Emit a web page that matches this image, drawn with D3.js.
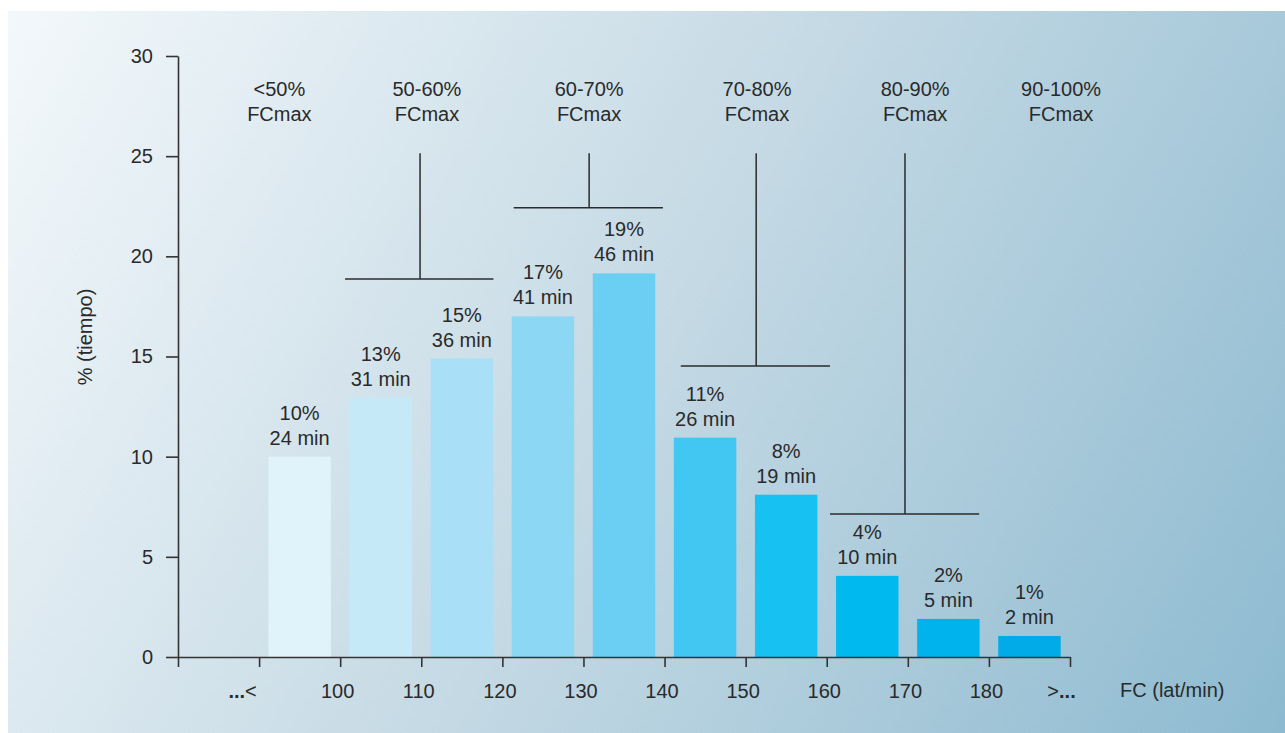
<!DOCTYPE html>
<html>
<head>
<meta charset="utf-8">
<script src="https://cdn.jsdelivr.net/npm/d3@7"></script>
<style>
  html, body { margin: 0; padding: 0; background: #ffffff; }
  svg { display: block; }
  text { font-family: "Liberation Sans", Arial, sans-serif; fill: #2a2a2a; }
</style>
</head>
<body>
<svg id="chart" width="1285" height="733"></svg>
<script>
// ---------- data ----------
const binStarts = [90, 100, 110, 120, 130, 140, 150, 160, 170, 180];
const percentValues = [10, 12.95, 14.9, 17, 19.15, 10.95, 8.1, 4.05, 1.9, 1.05];
const percentLabels = ["10%", "13%", "15%", "17%", "19%", "11%", "8%", "4%", "2%", "1%"];
const minuteLabels = ["24 min", "31 min", "36 min", "41 min", "46 min", "26 min", "19 min", "10 min", "5 min", "2 min"];
const barColors = ["#e0f2fa", "#c6e9f8", "#a9dff7", "#8cd7f4", "#6bcff3", "#42c7f2", "#17c1f1", "#00b9ee", "#00b3ec", "#00abe8"];

const xTickValues = [80, 90, 100, 110, 120, 130, 140, 150, 160, 170, 180, 190];
const xTickLabels = ["", "...<", "100", "110", "120", "130", "140", "150", "160", "170", "180", ">..."];
const yTickValues = [0, 5, 10, 15, 20, 25, 30];

const zoneNames = ["<50%", "50-60%", "60-70%", "70-80%", "80-90%", "90-100%"];
const zoneCenters = [92.5, 110.7, 130.7, 151.4, 170.9, 188.9];
const zoneSubtitle = "FCmax";

// brackets: [from, to] in lat/min, stem at value, bar level in %
const bracketFrom = [100.6, 121.4, 142.0, 160.4];
const bracketTo = [118.9, 139.8, 160.4, 178.8];
const bracketStem = [109.85, 130.7, 151.3, 169.65];
const bracketLevel = [18.87, 22.42, 14.53, 7.14];
const bracketTop = 25.15;

const xTitle = "FC (lat/min)";
const yTitle = "% (tiempo)";

// ---------- drawing ----------
const svg = d3.select("#chart");
const defs = svg.append("defs");
const grad = defs.append("linearGradient")
  .attr("id", "bg").attr("gradientUnits", "userSpaceOnUse")
  .attr("x1", 8).attr("y1", 11).attr("x2", 1285).attr("y2", 733);
grad.append("stop").attr("offset", 0).attr("stop-color", "#f3f8fb");
grad.append("stop").attr("offset", 0.5).attr("stop-color", "#c4d9e4");
grad.append("stop").attr("offset", 1).attr("stop-color", "#8dbad0");

svg.append("rect").attr("x", 8).attr("y", 11).attr("width", 1277).attr("height", 722)
  .attr("fill", "url(#bg)");

const x = d3.scaleLinear().domain([80, 190]).range([178, 1070]);
const y = d3.scaleLinear().domain([0, 30]).range([657, 56]);
const step = x(100) - x(90);
const inset = step * 0.115;

// bars
const g = svg.append("g");
g.selectAll("rect.bar").data(binStarts).join("rect")
  .attr("class", "bar")
  .attr("x", d => x(d) + inset)
  .attr("width", step - 2 * inset)
  .attr("y", (d, i) => y(percentValues[i]))
  .attr("height", (d, i) => y(0) - y(percentValues[i]))
  .attr("fill", (d, i) => barColors[i]);

// bar labels
const lbl = g.selectAll("g.lbl").data(binStarts).join("g").attr("class", "lbl");
lbl.append("text")
  .attr("x", d => x(d + 5))
  .attr("y", (d, i) => y(percentValues[i]) - 37)
  .attr("text-anchor", "middle").attr("font-size", 20)
  .text((d, i) => percentLabels[i]);
lbl.append("text")
  .attr("x", d => x(d + 5))
  .attr("y", (d, i) => y(percentValues[i]) - 12)
  .attr("text-anchor", "middle").attr("font-size", 20)
  .text((d, i) => minuteLabels[i]);

// axes
const axisColor = "#333333";
const xAxis = d3.axisBottom(x).tickValues(xTickValues).tickSize(10).tickSizeOuter(0).tickPadding(17)
  .tickFormat((d, i) => xTickLabels[i]);
const gx = svg.append("g").attr("transform", `translate(0,${y(0)})`).call(xAxis);
gx.select(".domain").attr("stroke", axisColor).attr("stroke-width", 1.6);
gx.selectAll(".tick line").attr("stroke", axisColor).attr("stroke-width", 1.6);
gx.selectAll(".tick text").attr("font-size", 20).attr("fill", "#2a2a2a")
  .attr("font-family", "Liberation Sans, Arial, sans-serif")
  .attr("dx", (d) => d === 90 ? -17 : (d === 190 ? -9 : -3))
  .each(function (d, i) {
    const label = xTickLabels[i];
    if (label.indexOf("...") < 0) return;
    const t = d3.select(this).text(null);
    label.split(/(\.\.\.)/).filter(s => s.length).forEach(part => {
      t.append("tspan").attr("font-weight", part === "..." ? "bold" : null).text(part);
    });
  });

const yAxis = d3.axisLeft(y).tickValues(yTickValues).tickSize(12).tickSizeOuter(0).tickPadding(13);
const gy = svg.append("g").attr("transform", `translate(${x(80)},0)`).call(yAxis);
gy.select(".domain").attr("stroke", axisColor).attr("stroke-width", 1.6);
gy.selectAll(".tick line").attr("stroke", axisColor).attr("stroke-width", 1.6);
gy.selectAll(".tick text").attr("font-size", 20).attr("fill", "#2a2a2a")
  .attr("font-family", "Liberation Sans, Arial, sans-serif");

// axis titles
svg.append("text").attr("x", 1120).attr("y", 697).attr("font-size", 20).text(xTitle);
svg.append("text").attr("transform", "translate(92,337) rotate(-90)")
  .attr("text-anchor", "middle").attr("font-size", 20).text(yTitle);

// zone labels
const zl = svg.append("g");
zl.selectAll("text.zn").data(zoneNames).join("text").attr("class", "zn")
  .attr("x", (d, i) => x(zoneCenters[i])).attr("y", 96)
  .attr("text-anchor", "middle").attr("font-size", 20).text(d => d);
zl.selectAll("text.zs").data(zoneNames).join("text").attr("class", "zs")
  .attr("x", (d, i) => x(zoneCenters[i])).attr("y", 121)
  .attr("text-anchor", "middle").attr("font-size", 20).text(zoneSubtitle);

// brackets
const br = svg.append("g").attr("stroke", "#2b2b2b").attr("stroke-width", 1.5).attr("fill", "none");
br.selectAll("line.h").data(bracketFrom).join("line").attr("class", "h")
  .attr("x1", d => x(d)).attr("x2", (d, i) => x(bracketTo[i]))
  .attr("y1", (d, i) => y(bracketLevel[i])).attr("y2", (d, i) => y(bracketLevel[i]));
br.selectAll("line.v").data(bracketStem).join("line").attr("class", "v")
  .attr("x1", d => x(d)).attr("x2", d => x(d))
  .attr("y1", y(bracketTop)).attr("y2", (d, i) => y(bracketLevel[i]));
</script>
</body>
</html>
